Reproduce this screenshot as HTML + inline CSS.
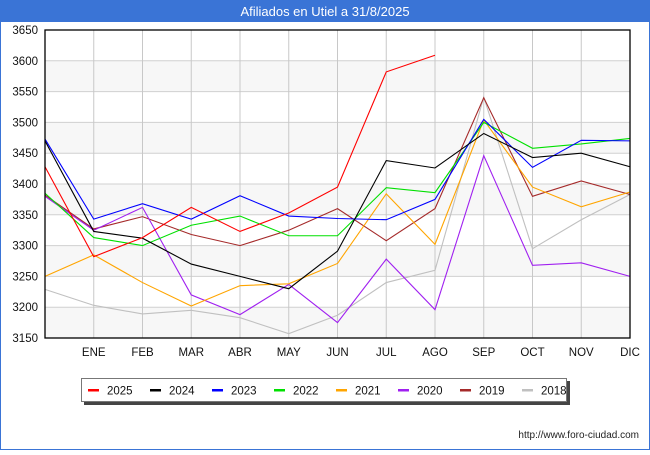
<!DOCTYPE html>
<html><head><meta charset="utf-8"><style>
body{margin:0;width:650px;height:450px;overflow:hidden;background:#fff;font-family:"Liberation Sans","DejaVu Sans",sans-serif}
</style></head><body>
<svg id="chart" width="650" height="450" xmlns="http://www.w3.org/2000/svg" font-family="Liberation Sans, DejaVu Sans, sans-serif">
<rect x="0.5" y="0.5" width="649" height="449" fill="#fff" stroke="#3a74d6"/>
<rect x="0" y="0" width="650" height="22" fill="#3a74d6"/>
<text x="325" y="16" text-anchor="middle" fill="#fff" font-size="13">Afiliados en Utiel a 31/8/2025</text>
<g id="grid"></g><g id="series"></g>
<rect x="45" y="30" width="585" height="308" fill="none" stroke="#000" stroke-width="1.3"/>
<rect x="84" y="381" width="486" height="24" fill="#444"/>
<rect x="81.5" y="378.5" width="485" height="23" fill="#fff" stroke="#777"/>
<g id="legend"></g>
<text x="639" y="438" text-anchor="end" font-size="10" fill="#222">http://www.foro-ciudad.com</text>
</svg>
<script>
const months=["","ENE","FEB","MAR","ABR","MAY","JUN","JUL","AGO","SEP","OCT","NOV","DIC"];
const yTicks=[3150,3200,3250,3300,3350,3400,3450,3500,3550,3600,3650];
const years=["2025","2024","2023","2022","2021","2020","2019","2018"];
const colors=["#ff0000","#000000","#0000ff","#00e000","#ffa500","#a020f0","#a52a2a","#c0c0c0"];
const s2025=[3428,3282,3313,3362,3323,3353,3395,3582,3609];
const s2024=[3470,3323,3312,3270,3250,3230,3291,3438,3426,3482,3443,3450,3428];
const s2023=[3473,3343,3368,3343,3381,3348,3344,3342,3375,3505,3427,3471,3470];
const s2022=[3385,3313,3300,3333,3348,3316,3316,3394,3386,3500,3458,3465,3474];
const s2021=[3250,3285,3240,3202,3235,3238,3271,3384,3302,3504,3395,3363,3387];
const s2020=[3380,3325,3362,3220,3188,3237,3175,3278,3196,3446,3268,3272,3250];
const s2019=[3382,3327,3347,3318,3300,3325,3360,3308,3360,3540,3380,3405,3383];
const s2018=[3229,3203,3189,3195,3183,3157,3187,3240,3260,3541,3295,3342,3383];
const series=[s2025,s2024,s2023,s2022,s2021,s2020,s2019,s2018];
const NS="http://www.w3.org/2000/svg";
const x0=45,x1=630,y0=338,y1=30,vmin=3150,vmax=3650;
const xs=i=>x0+i*(x1-x0)/12;
const ys=v=>y0-(v-vmin)/(vmax-vmin)*(y0-y1);
function mk(t,a,p){const e=document.createElementNS(NS,t);for(const k in a)e.setAttribute(k,a[k]);p.appendChild(e);return e;}
const g=document.getElementById("grid");
for(let i=0;i<yTicks.length-1;i++){
 if(i%2===0){const r=mk("rect",{x:x0,y:ys(yTicks[i+1]),width:x1-x0,height:ys(yTicks[i])-ys(yTicks[i+1]),fill:"#f7f7f7"},g);
 
 }
}
yTicks.forEach(v=>{const l=mk("line",{x1:x0,x2:x1,y1:ys(v),y2:ys(v),stroke:"#d0d0d0"},g);
 
 
 const t=mk("text",{x:38,y:ys(v)+4,"text-anchor":"end","font-size":"11.5",fill:"#111"},g);t.textContent=v;
 
 });
months.forEach((m,i)=>{if(i===0)return;const l=mk("line",{x1:xs(i),x2:xs(i),y1:y1,y2:y0,stroke:"#c8c8c8"},g);
 
 
 const t=mk("text",{x:xs(i),y:356,"text-anchor":"middle","font-size":"11.5",fill:"#111"},g);t.textContent=m;
 
 });
const sg=document.getElementById("series");
for(let k=series.length-1;k>=0;k--){
 const pts=series[k].map((v,i)=>xs(i)+","+ys(v)).join(" ");
 const p=mk("polyline",{points:pts,fill:"none",stroke:colors[k],"stroke-width":"1.1"},sg);
 
 
}
const lg=document.getElementById("legend");
years.forEach((y,k)=>{const bx=88+k*62;
 const r=mk("rect",{x:bx,y:389,width:11,height:2.5,fill:colors[k]},lg);
 
 
 const t=mk("text",{x:bx+19,y:394.5,"font-size":"11.5",fill:"#111"},lg);t.textContent=y;
 
 });
</script>
</body></html>
